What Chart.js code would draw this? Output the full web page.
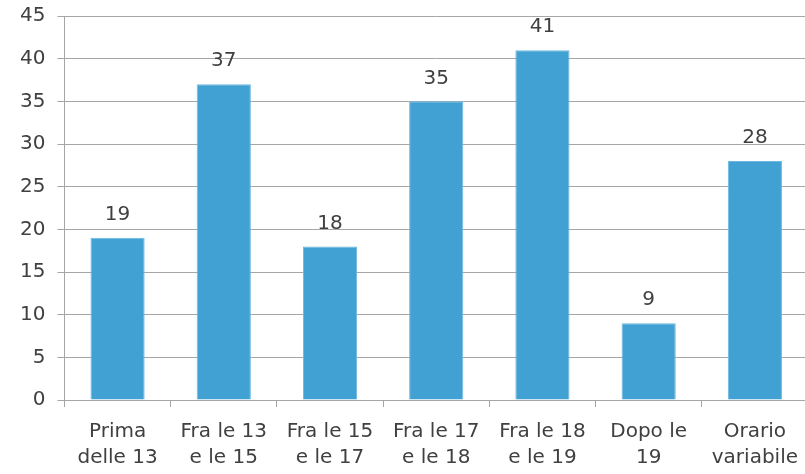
<!DOCTYPE html>
<html>
<head>
<meta charset="utf-8">
<script src="https://cdn.jsdelivr.net/npm/chart.js@4/dist/chart.umd.min.js"></script>
<style>
  html, body { margin: 0; padding: 0; background: #fff; overflow: hidden; }
  #wrap { width: 810px; height: 474px; }
</style>
</head>
<body>
<div id="wrap"><canvas id="myChart" width="810" height="474"></canvas></div>
<script>
const categories = [
  ["Prima", "delle 13"],
  ["Fra le 13", "e le 15"],
  ["Fra le 15", "e le 17"],
  ["Fra le 17", "e le 18"],
  ["Fra le 18", "e le 19"],
  ["Dopo le", "19"],
  ["Orario", "variabile"]
];
const values = [19, 37, 18, 35, 41, 9, 28];
const yTicks = [0, 5, 10, 15, 20, 25, 30, 35, 40, 45];

const FONT = "'DejaVu Sans', sans-serif";
const gridGray = "#a6a6a6";

// labels above the bars
const valueLabels = {
  id: "valueLabels",
  afterDatasetsDraw(chart) {
    const ctx = chart.ctx;
    const meta = chart.getDatasetMeta(0);
    ctx.save();
    ctx.font = "20px " + FONT;
    ctx.fillStyle = "#404040";
    ctx.textAlign = "center";
    ctx.textBaseline = "bottom";
    meta.data.forEach((bar, i) => {
      ctx.fillText(String(values[i]), bar.x, bar.y - 13);
    });
    ctx.restore();
  }
};

new Chart("myChart", {
  type: "bar",
  data: {
    labels: categories,
    datasets: [{
      data: values,
      backgroundColor: "#41a1d3",
      borderColor: "#6cb8e0",
      borderWidth: 1,
      categoryPercentage: 1,
      barPercentage: 0.51
    }]
  },
  options: {
    responsive: false,
    animation: false,
    layout: { padding: { top: 16, left: 8, right: 0, bottom: 0 } },
    plugins: { legend: { display: false }, tooltip: { enabled: false } },
    scales: {
      x: {
        offset: true,
        afterFit(scale) { scale.height = 74; },
        grid: { drawOnChartArea: false, color: gridGray, tickLength: 7 },
        border: { color: gridGray },
        ticks: { font: { family: FONT, size: 20, lineHeight: 1.3 }, color: "#404040", maxRotation: 0, autoSkip: false, padding: 12 }
      },
      y: {
        min: 0,
        max: 45,
        afterBuildTicks(axis) { axis.ticks = yTicks.map(v => ({ value: v })); },
        afterFit(scale) { scale.paddingTop = 0; scale.paddingBottom = 0; },
        grid: { color: gridGray, tickLength: 7 },
        border: { color: gridGray },
        ticks: { font: { family: FONT, size: 20 }, color: "#404040", padding: 12 }
      }
    }
  },
  plugins: [valueLabels]
});
</script>
</body>
</html>
